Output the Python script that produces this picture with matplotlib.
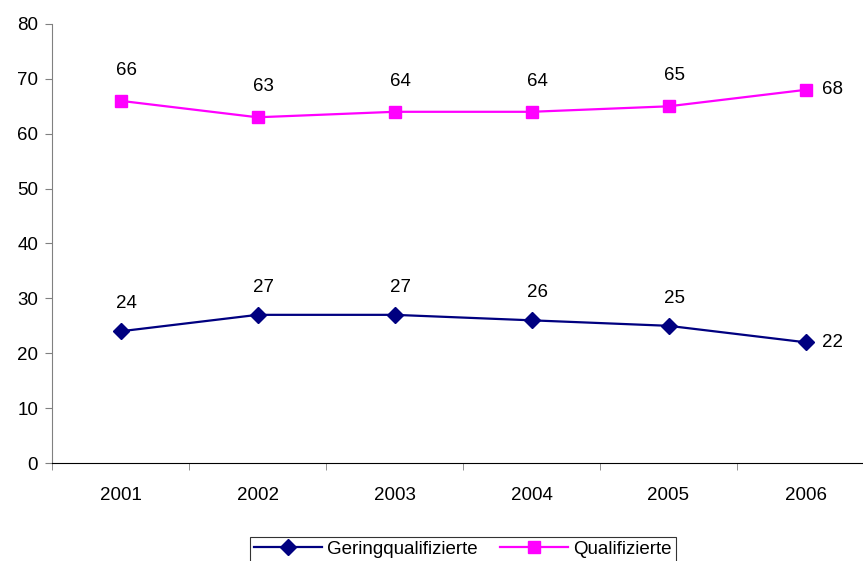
import matplotlib
matplotlib.use("Agg")
import matplotlib.pyplot as plt

plt.rcParams['font.family'] = ['Liberation Sans', 'DejaVu Sans']

# data
years = ['2001', '2002', '2003', '2004', '2005', '2006']
gering = [24, 27, 27, 26, 25, 22]
quali = [66, 63, 64, 64, 65, 68]

fs = 13.5
fig = plt.figure(figsize=(8.63, 5.61), dpi=100)
ax = fig.add_axes([52 / 863, 98 / 561, 822 / 863, 439 / 561])

x = range(len(years))
ax.plot(x, gering, color='#000080', lw=1.6, marker='D', ms=8, label='Geringqualifizierte')
ax.plot(x, quali, color='#FF00FF', lw=1.6, marker='s', ms=9, label='Qualifizierte')

for i, (g, q) in enumerate(zip(gering, quali)):
    if i == len(years) - 1:
        ax.annotate(str(g), (i, g), xytext=(12, 0), textcoords='offset points',
                    ha='left', va='center', fontsize=fs)
        ax.annotate(str(q), (i, q), xytext=(12, 0), textcoords='offset points',
                    ha='left', va='center', fontsize=fs)
    else:
        ax.annotate(str(g), (i, g), xytext=(4, 20), textcoords='offset points',
                    ha='center', va='center', fontsize=fs)
        ax.annotate(str(q), (i, q), xytext=(4, 22), textcoords='offset points',
                    ha='center', va='center', fontsize=fs)

ax.set_xlim(-0.5, len(years) - 0.5)
ax.set_ylim(0, 80)
ax.set_yticks(range(0, 81, 10))
ax.set_xticks(x)
ax.set_xticklabels(years)
ax.set_xticks([i - 0.5 for i in range(len(years) + 1)], minor=True)
ax.tick_params(axis='x', which='major', length=0, pad=17, labelsize=fs)
ax.tick_params(axis='x', which='minor', length=5, direction='out', color='#808080')
ax.tick_params(axis='y', length=5, direction='out', labelsize=fs, color='#808080', pad=5)
ax.spines['top'].set_visible(False)
ax.spines['right'].set_visible(False)
ax.spines['left'].set_color('#808080')
ax.spines['bottom'].set_color('black')

leg = fig.legend(loc='upper center', bbox_to_anchor=(463 / 863, 1 - 537 / 561), ncol=2,
                 fontsize=fs, frameon=True, fancybox=False, edgecolor='black',
                 borderpad=0.2, handlelength=3.6, columnspacing=1.2, handletextpad=0.3,
                 borderaxespad=0)
leg.get_frame().set_linewidth(0.8)

fig.savefig('out.png', dpi=100)
